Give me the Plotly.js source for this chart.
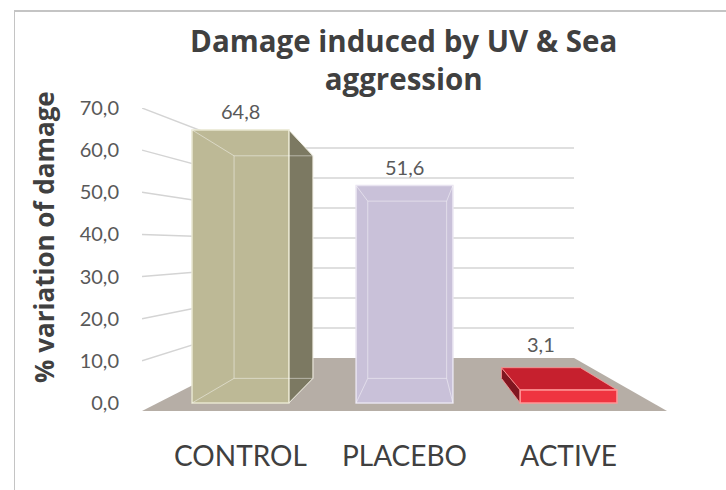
<!DOCTYPE html>
<html>
<head>
<meta charset="utf-8">
<script src="https://cdn.plot.ly/plotly-3.0.1.min.js"></script>
<style>
  html, body { margin: 0; padding: 0; background: #ffffff; }
  #wrap { position: relative; width: 726px; height: 490px; overflow: hidden; }
  #chart { position: absolute; left: 0; top: 0; width: 726px; height: 490px; }
  #frame { position: absolute; left: 14px; top: 10px; width: 760px; height: 540px;
           border-left: 1.5px solid #c4c4c4; border-top: 2px solid #c4c4c4; pointer-events: none; }
</style>
</head>
<body>
<div id="wrap"><div id="chart"></div><div id="frame"></div></div>
<script>
// ---- data ----
const categories = ['CONTROL', 'PLACEBO', 'ACTIVE'];
const values = [64.8, 51.6, 3.1];
const yTickVals = [0, 10, 20, 30, 40, 50, 60, 70];
const titleText = 'Damage induced by UV & Sea<br>aggression';
const yTitleText = '% variation of damage';

// ---- styles ----
const frontColors = ['rgb(189,185,150)', 'rgb(201,193,217)', 'rgb(239,52,64)'];
const sideColors  = ['rgb(124,121,98)',  'rgb(150,142,170)', 'rgb(128,22,32)'];
const topColors   = ['rgb(160,156,124)', 'rgb(180,172,198)', 'rgb(198,32,46)'];
const edgeColors  = ['rgb(232,230,208)', 'rgb(232,227,240)', 'rgb(255,150,150)'];

// ---- pseudo-3D geometry (in axis units) ----
const X_MIN = -0.6, X_MAX = 2.6, Y_MIN = -1.9, Y_MAX = 70;
const BAR_W = 0.59;
const VP = { x: 1.089, y: 31.6 };
const S_BAR = 0.815, S_FLOOR = 0.625, S_WALL = 0.712;

function proj(x, y, s) { return [VP.x + (x - VP.x) * s, VP.y + (y - VP.y) * s]; }
function pathOf(pts) { return 'M ' + pts.map(p => p[0] + ',' + p[1]).join(' L ') + ' Z'; }

const xIdx = categories.map((_, i) => i);
const shapes = [];

// floor
const fl = [X_MIN, Y_MIN], fr = [X_MAX, Y_MIN];
const bl = proj(X_MIN, Y_MIN, S_FLOOR), br = proj(X_MAX, Y_MIN, S_FLOOR);
shapes.push({ type: 'path', xref: 'x', yref: 'y', layer: 'between',
  path: pathOf([fl, fr, br, bl]), fillcolor: 'rgb(182,174,166)', line: { width: 0 } });

// back wall + side wall grid lines
yTickVals.forEach(v => {
  if (v === 0) return;
  const yw = bl[1] + v * S_WALL;
  shapes.push({ type: 'line', xref: 'x', yref: 'y', layer: 'between',
    x0: bl[0], x1: br[0], y0: yw, y1: yw, line: { color: 'rgb(212,212,212)', width: 1.4 } });
  shapes.push({ type: 'line', xref: 'x', yref: 'y', layer: 'between',
    x0: X_MIN, x1: bl[0], y0: v, y1: yw, line: { color: 'rgb(212,212,212)', width: 1.4 } });
});

// bar side / top faces and hidden edges
const annotations = [];
values.forEach((v, i) => {
  const L = xIdx[i] - BAR_W / 2, R = xIdx[i] + BAR_W / 2;
  if (R < VP.x) {
    shapes.push({ type: 'path', xref: 'x', yref: 'y', layer: 'between',
      path: pathOf([[R, 0], [R, v], proj(R, v, S_BAR), proj(R, 0, S_BAR)]),
      fillcolor: sideColors[i], line: { color: edgeColors[i], width: 0.8 } });
  }
  if (L > VP.x) {
    shapes.push({ type: 'path', xref: 'x', yref: 'y', layer: 'between',
      path: pathOf([[L, 0], [L, v], proj(L, v, S_BAR), proj(L, 0, S_BAR)]),
      fillcolor: sideColors[i], line: { color: edgeColors[i], width: 0.8 } });
  }
  const backTop = proj(xIdx[i], v, S_BAR);
  if (v < VP.y) {
    shapes.push({ type: 'path', xref: 'x', yref: 'y', layer: 'between',
      path: pathOf([[L, v], [R, v], proj(R, v, S_BAR), proj(L, v, S_BAR)]),
      fillcolor: topColors[i], line: { color: edgeColors[i], width: 0.8 } });
  } else {
    const edge = { color: 'rgba(255,255,255,0.45)', width: 1 };
    const b = [proj(L, 0, S_BAR), proj(R, 0, S_BAR), proj(R, v, S_BAR), proj(L, v, S_BAR)];
    shapes.push({ type: 'path', xref: 'x', yref: 'y', layer: 'above', path: pathOf(b), line: edge });
    const f = [[L, 0], [R, 0], [R, v], [L, v]];
    f.forEach((p, k) => shapes.push({ type: 'line', xref: 'x', yref: 'y', layer: 'above',
      x0: p[0], y0: p[1], x1: b[k][0], y1: b[k][1], line: edge }));
  }
  const lx = v < VP.y ? backTop[0] : xIdx[i];
  const ly = Math.max(v, backTop[1]);
  annotations.push({ x: lx, y: ly, xref: 'x', yref: 'y', yanchor: 'bottom', yshift: v < VP.y ? 10 : 5,
    text: v.toFixed(1).replace('.', ','), showarrow: false,
    font: { family: 'Lato', size: 20, color: '#595959' } });
});

// y axis title
annotations.push({ xref: 'paper', yref: 'paper', x: -0.187, y: 0.574, xanchor: 'center', yanchor: 'middle',
  textangle: -90, text: yTitleText, showarrow: false,
  font: { family: 'Open Sans', size: 26, color: '#404040', weight: 700 } });

const trace = {
  type: 'bar', x: xIdx, y: values, width: BAR_W,
  marker: { color: frontColors, line: { color: edgeColors, width: 1.5 } },
  hoverinfo: 'none'
};

const layout = {
  width: 726, height: 490,
  margin: { l: 142, r: 59, t: 108, b: 79 },
  paper_bgcolor: '#ffffff', plot_bgcolor: 'rgba(0,0,0,0)',
  separators: ',.',
  showlegend: false,
  title: { text: titleText, x: 0.556, xanchor: 'center', xref: 'container',
    y: 1 - 52 / 490, yanchor: 'top', yref: 'container',
    font: { family: 'Open Sans', size: 29.5, color: '#404040', weight: 700 } },
  xaxis: { range: [X_MIN, X_MAX], tickvals: xIdx, ticktext: categories,
    showgrid: false, zeroline: false, showline: false, ticks: '', ticklabelstandoff: 26,
    tickfont: { family: 'Lato', size: 28, color: '#404040' }, fixedrange: true },
  yaxis: { range: [Y_MIN, Y_MAX], tickvals: yTickVals, tickformat: '.1f',
    showgrid: false, zeroline: false, showline: false, ticks: '', ticklabelstandoff: 22,
    tickfont: { family: 'Lato', size: 20, color: '#595959' }, fixedrange: true },
  shapes: shapes,
  annotations: annotations
};

Plotly.newPlot('chart', [trace], layout, { displayModeBar: false, staticPlot: true });
</script>
</body>
</html>
